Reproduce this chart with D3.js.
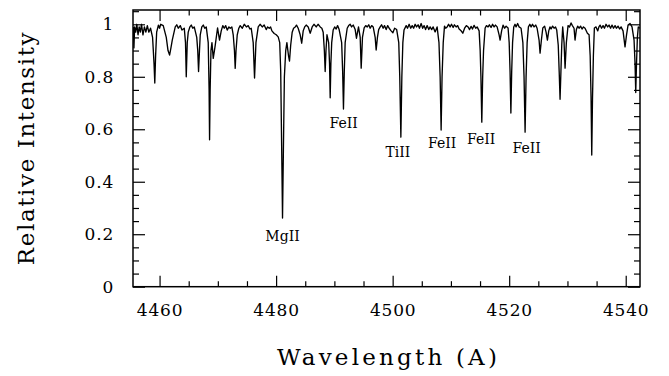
<!DOCTYPE html>
<html>
<head>
<meta charset="utf-8">
<script src="https://cdn.jsdelivr.net/npm/d3@7"></script>
<style>
  body { margin: 0; background: #fff; }
  text { font-family: "DejaVu Serif", serif; fill: #000; }
</style>
</head>
<body>
<div class="chart"></div>
<script>
// spectrum: [wavelength (A), relative intensity]
const spectrum = [
  [4455.50, 0.99], [4455.60, 0.91], [4455.72, 0.99], [4455.90, 0.97], [4456.10, 1.00],
  [4456.30, 0.96], [4456.50, 0.99], [4456.70, 0.97], [4456.90, 1.00], [4457.15, 0.96],
  [4457.40, 0.99], [4457.65, 0.97], [4457.90, 0.995], [4458.15, 0.97], [4458.45, 0.985],
  [4458.80, 0.95], [4459.05, 0.85], [4459.18, 0.776], [4459.32, 0.88], [4459.50, 0.97],
  [4459.80, 0.997], [4460.00, 0.985], [4460.20, 1.0], [4460.63, 0.995], [4461.15, 0.95],
  [4461.45, 0.90], [4461.72, 0.883], [4461.95, 0.91], [4462.18, 0.94], [4462.69, 0.99],
  [4462.95, 0.998], [4463.21, 0.985], [4463.55, 0.995], [4463.84, 0.978], [4464.24, 0.985],
  [4464.45, 0.93], [4464.58, 0.80], [4464.75, 0.93], [4464.92, 0.97], [4465.20, 0.99],
  [4465.44, 0.997], [4465.70, 0.985], [4465.95, 0.99], [4466.38, 0.95], [4466.55, 0.90],
  [4466.69, 0.82], [4466.85, 0.90], [4466.98, 0.96], [4467.25, 0.99], [4467.50, 0.997],
  [4467.75, 0.985], [4468.01, 0.99], [4468.35, 0.93], [4468.50, 0.75], [4468.58, 0.56],
  [4468.68, 0.75], [4468.82, 0.90], [4468.99, 0.93], [4469.21, 0.87], [4469.55, 0.92],
  [4469.95, 0.986], [4470.29, 0.94], [4470.58, 0.975], [4470.85, 0.995], [4471.10, 0.985],
  [4471.35, 0.995], [4471.61, 0.978], [4471.90, 0.99], [4472.13, 0.985], [4472.40, 0.99],
  [4472.64, 0.96], [4472.85, 0.90], [4472.98, 0.832], [4473.12, 0.90], [4473.33, 0.96],
  [4473.60, 0.985], [4473.84, 0.995], [4474.20, 0.985], [4474.53, 1.0], [4474.90, 0.99],
  [4475.21, 0.995], [4475.50, 0.982], [4475.73, 0.985], [4476.07, 0.93], [4476.30, 0.795],
  [4476.54, 0.93], [4476.93, 0.99], [4477.25, 1.0], [4477.62, 0.99], [4477.95, 0.997],
  [4478.30, 0.98], [4478.55, 0.99], [4478.82, 0.985], [4479.05, 0.99], [4479.28, 0.975],
  [4479.67, 0.965], [4480.02, 0.96], [4480.36, 0.952], [4480.62, 0.93], [4480.79, 0.82],
  [4480.96, 0.52], [4481.10, 0.262], [4481.25, 0.52], [4481.42, 0.80], [4481.65, 0.90],
  [4481.85, 0.93], [4482.13, 0.88], [4482.30, 0.86], [4482.50, 0.92], [4482.76, 0.97],
  [4483.00, 0.985], [4483.28, 0.99], [4483.50, 0.997], [4483.79, 0.985], [4484.13, 0.96],
  [4484.39, 0.928], [4484.65, 0.975], [4484.90, 0.99], [4485.16, 0.997], [4485.51, 0.99],
  [4485.85, 0.966], [4486.19, 0.99], [4486.50, 1.0], [4486.88, 0.99], [4487.20, 1.0],
  [4487.57, 0.99], [4487.85, 0.985], [4488.08, 0.97], [4488.28, 0.90], [4488.42, 0.82],
  [4488.56, 0.90], [4488.73, 0.96], [4489.02, 0.93], [4489.17, 0.85], [4489.28, 0.72],
  [4489.40, 0.85], [4489.54, 0.93], [4489.79, 0.978], [4490.05, 0.99], [4490.31, 0.982],
  [4490.55, 0.995], [4490.82, 0.98], [4491.25, 0.93], [4491.42, 0.82], [4491.56, 0.677],
  [4491.70, 0.82], [4491.85, 0.93], [4492.20, 0.985], [4492.45, 0.995], [4492.71, 1.0],
  [4492.95, 0.99], [4493.23, 0.997], [4493.57, 0.98], [4493.79, 0.947], [4494.14, 0.99],
  [4494.43, 0.95], [4494.60, 0.833], [4494.82, 0.95], [4495.11, 0.986], [4495.38, 0.995],
  [4495.63, 0.99], [4495.90, 0.998], [4496.14, 0.985], [4496.40, 0.995], [4496.66, 0.99],
  [4497.00, 0.95], [4497.17, 0.902], [4497.39, 0.95], [4497.60, 0.98], [4497.86, 0.99],
  [4498.10, 0.998], [4498.37, 0.985], [4498.60, 0.995], [4498.89, 0.98], [4499.15, 0.995],
  [4499.40, 0.985], [4499.74, 0.975], [4500.04, 0.968], [4500.34, 0.985], [4500.69, 0.98],
  [4501.05, 0.93], [4501.22, 0.80], [4501.41, 0.57], [4501.58, 0.80], [4501.75, 0.93],
  [4501.95, 0.978], [4502.32, 0.995], [4502.55, 0.985], [4502.83, 1.0], [4503.10, 0.985],
  [4503.35, 0.995], [4503.60, 0.985], [4503.86, 1.0], [4504.10, 0.99], [4504.37, 0.998],
  [4504.60, 0.985], [4504.89, 1.003], [4505.15, 0.985], [4505.40, 0.995], [4505.65, 0.98],
  [4505.92, 0.995], [4506.20, 0.98], [4506.43, 0.99], [4506.70, 0.98], [4506.95, 0.99],
  [4507.29, 0.971], [4507.63, 0.99], [4507.95, 0.93], [4508.15, 0.80], [4508.32, 0.597],
  [4508.48, 0.80], [4508.68, 0.93], [4508.90, 0.993], [4509.10, 0.985], [4509.35, 0.99],
  [4509.60, 1.0], [4509.86, 0.99], [4510.10, 1.0], [4510.38, 0.988], [4510.60, 0.998],
  [4510.89, 0.99], [4511.15, 0.995], [4511.41, 0.982], [4511.75, 0.975], [4512.04, 0.966],
  [4512.35, 0.985], [4512.65, 0.995], [4512.95, 0.99], [4513.20, 0.98], [4513.47, 0.992],
  [4513.70, 0.982], [4513.98, 0.996], [4514.25, 0.985], [4514.50, 0.99], [4514.84, 0.975],
  [4515.02, 0.90], [4515.15, 0.80], [4515.30, 0.627], [4515.45, 0.80], [4515.60, 0.90],
  [4515.87, 0.986], [4516.10, 0.995], [4516.38, 0.99], [4516.60, 0.998], [4516.89, 0.988],
  [4517.15, 1.0], [4517.41, 0.99], [4517.65, 0.997], [4517.93, 0.99], [4518.27, 0.96],
  [4518.44, 0.94], [4518.70, 0.975], [4518.95, 0.997], [4519.20, 0.985], [4519.47, 0.993],
  [4519.81, 0.986], [4520.00, 0.93], [4520.15, 0.82], [4520.29, 0.662], [4520.43, 0.82],
  [4520.58, 0.93], [4520.78, 0.99], [4521.00, 1.0], [4521.18, 0.99], [4521.45, 1.003],
  [4521.70, 0.99], [4522.04, 0.985], [4522.35, 0.93], [4522.55, 0.80], [4522.73, 0.589],
  [4522.90, 0.80], [4523.08, 0.93], [4523.30, 0.99], [4523.55, 1.0], [4523.76, 0.99],
  [4524.00, 1.0], [4524.27, 0.99], [4524.55, 0.997], [4524.79, 0.985], [4525.13, 0.94],
  [4525.30, 0.89], [4525.53, 0.94], [4525.77, 0.986], [4526.08, 0.993], [4526.33, 0.97],
  [4526.56, 0.94], [4526.79, 0.975], [4527.00, 0.99], [4527.19, 0.982], [4527.45, 0.993],
  [4527.70, 0.985], [4527.95, 0.99], [4528.16, 0.978], [4528.42, 0.92], [4528.58, 0.82],
  [4528.73, 0.714], [4528.88, 0.82], [4529.02, 0.92], [4529.18, 0.99], [4529.42, 0.93],
  [4529.59, 0.833], [4529.81, 0.93], [4530.10, 0.995], [4530.35, 0.99], [4530.62, 1.005],
  [4530.85, 0.995], [4531.13, 0.985], [4531.30, 0.94], [4531.53, 0.98], [4531.75, 0.993],
  [4531.99, 0.985], [4532.25, 0.993], [4532.50, 0.982], [4532.75, 0.99], [4533.02, 0.985],
  [4533.42, 0.966], [4533.71, 0.96], [4533.90, 0.88], [4534.05, 0.72], [4534.17, 0.502],
  [4534.30, 0.72], [4534.45, 0.88], [4534.62, 0.986], [4534.90, 0.99], [4535.20, 0.975],
  [4535.40, 0.99], [4535.60, 0.997], [4535.85, 0.985], [4536.11, 0.995], [4536.35, 0.985],
  [4536.62, 1.0], [4536.90, 0.99], [4537.14, 0.997], [4537.40, 0.985], [4537.65, 0.997],
  [4537.90, 0.985], [4538.17, 0.995], [4538.40, 0.985], [4538.68, 0.993], [4538.95, 0.982],
  [4539.20, 0.99], [4539.54, 0.975], [4539.88, 0.914], [4540.14, 0.96], [4540.40, 0.997],
  [4540.74, 1.003], [4541.08, 0.99], [4541.43, 0.94], [4541.60, 0.85], [4541.72, 0.74],
  [4541.85, 0.85], [4542.00, 0.95], [4542.16, 0.99], [4542.45, 0.985]
]

// identified lines: name, wavelength, height of the label baseline
const lineNames = ['MgII', 'FeII', 'TiII', 'FeII', 'FeII', 'FeII']
const lineWaves = [4481.1, 4491.6, 4500.9, 4508.5, 4515.2, 4523.0]
const labelLevels = [0.174, 0.603, 0.495, 0.527, 0.544, 0.508]

const xMajor = [4460, 4480, 4500, 4520, 4540]
const xMinor = [4465, 4470, 4475, 4485, 4490, 4495, 4505, 4510, 4515, 4525, 4530, 4535]
const yMajor = [0, 0.2, 0.4, 0.6, 0.8, 1]
const yMinor = [0.05, 0.1, 0.15, 0.25, 0.3, 0.35, 0.45, 0.5, 0.55, 0.65, 0.7, 0.75, 0.85, 0.9, 0.95, 1.05]

const margin = { top: 10, right: 29, bottom: 89.3, left: 133 }
const W = 669, H = 376
const width = W - margin.left - margin.right
const height = H - margin.top - margin.bottom

const svg = d3.select('.chart')
  .append('svg')
    .attr('width', W)
    .attr('height', H)
  .append('g')
    .attr('transform', `translate(${margin.left}, ${margin.top})`)

const x = d3.scaleLinear()
  .domain([4455.44, 4542.45])
  .range([0, width])
const y = d3.scaleLinear()
  .domain([0, 1.0545])
  .range([height, 0])

svg.append('clipPath').attr('id', 'clip')
  .append('rect').attr('width', width).attr('height', height)

// ticks point inward on all four sides
const tickGroup = (axis, transform) => {
  const g = svg.append('g').attr('transform', transform).call(axis)
  g.select('.domain').remove()
  g.selectAll('line').attr('stroke', '#000').attr('stroke-width', 1.2)
  g.selectAll('text')
    .attr('font-size', 17)
    .attr('letter-spacing', 0.8)
    .attr('font-family', '"DejaVu Serif", serif')
    .attr('fill', '#000')
  return g
}

tickGroup(d3.axisBottom(x).tickValues(xMajor).tickSize(-11).tickPadding(17).tickFormat(d3.format('d')),
  `translate(0, ${height})`)
tickGroup(d3.axisBottom(x).tickValues(xMinor).tickSize(-5.5).tickFormat(''), `translate(0, ${height})`)
tickGroup(d3.axisTop(x).tickValues(xMajor).tickSize(-11).tickFormat(''), 'translate(0, 0)')
tickGroup(d3.axisTop(x).tickValues(xMinor).tickSize(-5.5).tickFormat(''), 'translate(0, 0)')

tickGroup(d3.axisLeft(y).tickValues(yMajor).tickSize(-12).tickPadding(19).tickFormat(d3.format('~g')),
  'translate(0, 0)')
tickGroup(d3.axisLeft(y).tickValues(yMinor).tickSize(-6).tickFormat(''), 'translate(0, 0)')
tickGroup(d3.axisRight(y).tickValues(yMajor).tickSize(-12).tickFormat(''), `translate(${width}, 0)`)
tickGroup(d3.axisRight(y).tickValues(yMinor).tickSize(-6).tickFormat(''), `translate(${width}, 0)`)

const line = d3.line()
  .x(d => x(d[0]))
  .y(d => y(d[1]))

svg.append('path')
  .datum(spectrum)
  .attr('clip-path', 'url(#clip)')
  .attr('fill', 'none')
  .attr('stroke', '#000')
  .attr('stroke-width', 1.35)
  .attr('stroke-linejoin', 'round')
  .attr('d', line)

svg.append('rect')
  .attr('width', width)
  .attr('height', height)
  .attr('fill', 'none')
  .attr('stroke', '#000')
  .attr('stroke-width', 1.5)

// line identifications
svg.selectAll('.ident')
  .data(lineNames)
  .enter()
  .append('text')
    .attr('class', 'ident')
    .attr('x', (d, i) => x(lineWaves[i]))
    .attr('y', (d, i) => y(labelLevels[i]))
    .attr('text-anchor', 'middle')
    .attr('font-size', 14)
    .text(d => d)

svg.append('text')
  .attr('x', width / 2 + 2)
  .attr('y', height + 78)
  .attr('text-anchor', 'middle')
  .attr('font-size', 23)
  .attr('letter-spacing', 3.2)
  .text('Wavelength (A)')

svg.append('text')
  .attr('transform', `translate(${34 - margin.left}, ${148 - margin.top}) rotate(-90)`)
  .attr('text-anchor', 'middle')
  .attr('font-size', 23)
  .attr('letter-spacing', 1.6)
  .text('Relative Intensity')
</script>
</body>
</html>
